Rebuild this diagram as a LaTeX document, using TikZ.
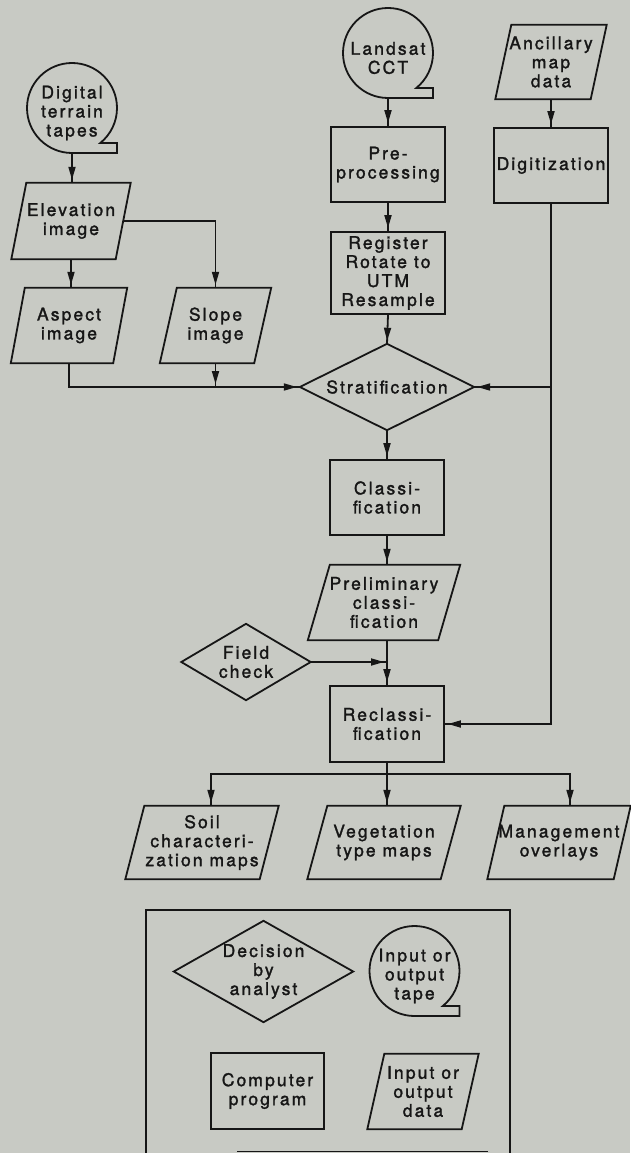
\documentclass[tikz,border=0pt]{standalone}
\usepackage{fontspec}
\newfontfamily\heros[LetterSpace=12,FakeBold=1.6]{TeX Gyre Heros}
\usetikzlibrary{arrows.meta,decorations.markings}
\definecolor{bg}{RGB}{200,202,196}
\definecolor{ink}{RGB}{22,22,22}
% name, cx, cy, w, h, slant, text
\newcommand\iobox[7]{%
  \node[txt, minimum width=#4pt, minimum height=#5pt] (#1) at (#2,#3) {#7};
  \draw[ln] ([xshift=#6pt/2]#1.north west) -- ([xshift=#6pt/2]#1.north east)
     -- ([xshift=-#6pt/2]#1.south east) -- ([xshift=-#6pt/2]#1.south west) -- cycle;}
% name, cx, cy, w, h, text
\newcommand\decision[6]{%
  \node[txt, minimum width=#4pt, minimum height=#5pt] (#1) at (#2,#3) {#6};
  \draw[ln] (#1.north) -- (#1.east) -- (#1.south) -- (#1.west) -- cycle;}
% name, cx, cy, text
\newcommand\tape[4]{%
  \coordinate (#1c) at (#2,#3);
  \coordinate (#1b) at ([yshift=-45pt]#1c);
  \draw[ln] (#1b) arc[start angle=-90,end angle=-411,radius=45pt] -| ([xshift=45pt]#1b) -- cycle;
  \node[txt] (#1) at ([yshift=-5pt]#1c) {#4};}
\begin{document}
\begin{tikzpicture}[x=1pt,y=-1pt,
  ln/.style={draw=ink, line width=1.8pt, line join=miter},
  txt/.style={inner sep=0pt, align=center, font=\heros\fontsize{17.5}{19}\selectfont, text=ink},
  box/.style={txt, draw=ink, line width=1.8pt, minimum width=114pt, minimum height=75pt},
  arr/.style={decoration={markings,mark=at position -3pt with {\arrow{Triangle[length=13pt,width=7pt]}}},postaction={decorate}}]
\fill[bg] (0,0) rectangle (630,1153);
\useasboundingbox (0,0) rectangle (630,1153);

% sources
\tape{dtt}{72}{108}{Digital\\terrain\\tapes}
\tape{landsat}{388}{53}{Landsat\\CCT}
\iobox{anc}{551}{62}{95}{74}{16}{Ancillary\\map\\data}

% processing
\node[box] (pre) at (388,164.5) {Pre-\\processing};
\node[box, minimum height=82pt] (reg) at (388,273) {Register\\Rotate to\\UTM\\Resample};
\node[box] (dig) at (551,165.5) {Digitization};
\iobox{elev}{71}{221}{104}{76}{15}{Elevation\\image}
\iobox{aspect}{69}{325.5}{102}{75}{14}{Aspect\\image}
\iobox{slope}{215.5}{325.5}{94}{75}{17}{Slope\\image}
\decision{strat}{387}{387}{174}{86}{Stratification}
\node[box] (class) at (387,497.5) {Classi-\\fication};
\iobox{prelim}{384}{602.5}{130}{75}{22}{Preliminary\\classi-\\fication}
\decision{field}{246}{662}{129}{76}{Field\\check}
\node[box, minimum height=76pt] (reclass) at (387,724) {Reclassi-\\fication};
\iobox{soil}{202}{842.5}{134}{73}{19}{Soil\\characteri-\\zation maps}
\iobox{veg}{384}{842.5}{133}{73}{20}{Vegetation\\type maps}
\iobox{mgmt}{559}{842.5}{126}{73}{17}{Management\\overlays}

% connectors
\draw[ln,arr] (dttb) -- (elev.north -| dttb);
\draw[ln,arr] (elev.south) -- (elev.south |- aspect.north);
\draw[ln,arr] (elev.east) -| (slope.north);
\draw[ln,arr] (aspect.south) |- (strat.west);
\draw[ln,arr] (slope.south) -- (slope.south |- strat.west);
\draw[ln,arr] (landsatb) -- (pre.north);
\draw[ln,arr] (pre.south) -- (reg.north);
\draw[ln,arr] (reg.south) -- (strat.north);
\draw[ln,arr] (anc.south) -- (anc.south |- dig.north);
\draw[ln,arr] (dig.south) |- (reclass.east);
\draw[ln,arr] (dig.south |- strat.east) -- (strat.east);
\draw[ln,arr] (strat.south) -- (class.north);
\draw[ln,arr] (class.south) -- (class.south |- prelim.north);
\draw[ln,arr] (reclass.north |- prelim.south) -- (reclass.north);
\draw[ln,arr] (field.east) -- (reclass.north |- field.east);
\coordinate (split) at ([yshift=-11pt]reclass.south);
\draw[ln] (reclass.south) -- (split);
\draw[ln,arr] (split) -| ([xshift=9pt]soil.north);
\draw[ln,arr] (split) -| ([xshift=11pt]mgmt.north);
\draw[ln,arr] (split) -- (split |- veg.north);

% legend
\draw[ln] (146,1153) |- (510,910) -- (510,1153);
\draw[ln, line width=1.2pt] (237,1151.5) -- (488,1151.5);
\decision{ldec}{263.5}{971.5}{179}{101}{Decision\\by\\analyst}
\tape{ltape}{414.5}{971}{Input or\\output\\tape}
\node[box, minimum width=113pt, minimum height=76pt] (lprog) at (267.5,1091) {Computer\\program};
\iobox{ldata}{423}{1091.5}{94}{75}{17}{Input or\\output\\data}
\end{tikzpicture}
\end{document}
